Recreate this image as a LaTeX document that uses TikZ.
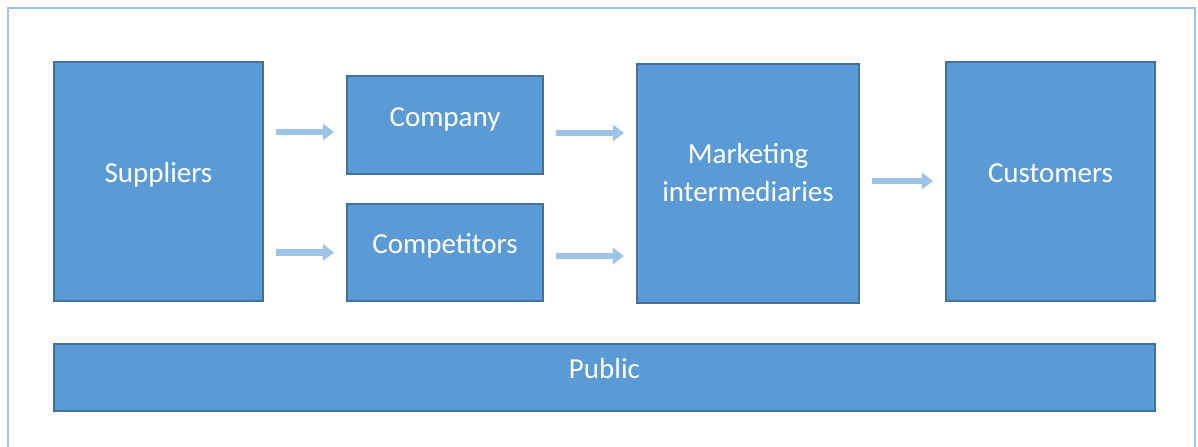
\documentclass[tikz,border=0pt]{standalone}
\usepackage{fontspec}
\setmainfont{Carlito}
\usetikzlibrary{arrows.meta}

\begin{document}
\begin{tikzpicture}[thick]

  % Define Colors
  \definecolor{boxblue}{HTML}{5B9BD5}
  \definecolor{edgeblue}{HTML}{41719C}
  \definecolor{lightblue}{HTML}{9DC3E6}

  % Node styles
  \tikzstyle{bbox}=[rectangle, draw=edgeblue, line width=0.6pt, fill=boxblue, text=white,
    font=\fontsize{16.5}{21.5}\selectfont, text height=0.38cm, text depth=0.34cm]
  \tikzstyle{flow}=[lightblue, line width=0.13cm, shorten <=0.25cm, shorten >=0.25cm,
    -{Triangle[length=0.22cm, width=0.32cm]}]

  \useasboundingbox (0,0) rectangle (23.96,-8.92);
  \draw[lightblue, line width=0.035cm] (0.16,-0.16) rectangle (23.9,-9.5);

  % Nodes
  \node[bbox, minimum width=4.18cm, minimum height=4.78cm] (sup) at (3.17,-3.63) {Suppliers};
  \node[bbox, minimum width=3.92cm, minimum height=1.96cm] (comp) at (8.9,-2.5) {Company};
  \node[bbox, minimum width=3.92cm, minimum height=1.94cm] (rival) at (8.9,-5.05) {Competitors};
  \node[bbox, minimum width=4.44cm, minimum height=4.78cm, align=center, text height=1.15cm, text depth=0.45cm] (mkt) at (14.96,-3.67) {Marketing\\intermediaries};
  \node[bbox, minimum width=4.18cm, minimum height=4.78cm] (cust) at (21.01,-3.63) {Customers};
  \node[bbox, minimum width=22.02cm, minimum height=1.34cm] (pub) at (12.09,-7.55) {Public};

  % Flows
  \draw[flow] ([yshift=-0.14cm]comp.west -| sup.east) -- ([yshift=-0.14cm]comp.west);
  \draw[flow] (rival.west -| sup.east) -- (rival.west);
  \draw[flow] ([yshift=-0.16cm]comp.east) -- ([yshift=-0.16cm]comp.east -| mkt.west);
  \draw[flow] ([yshift=-0.07cm]rival.east) -- ([yshift=-0.07cm]rival.east -| mkt.west);
  \draw[flow] ([yshift=0.05cm]mkt.east) -- ([yshift=0.05cm]mkt.east -| cust.west);

\end{tikzpicture}
\end{document}
